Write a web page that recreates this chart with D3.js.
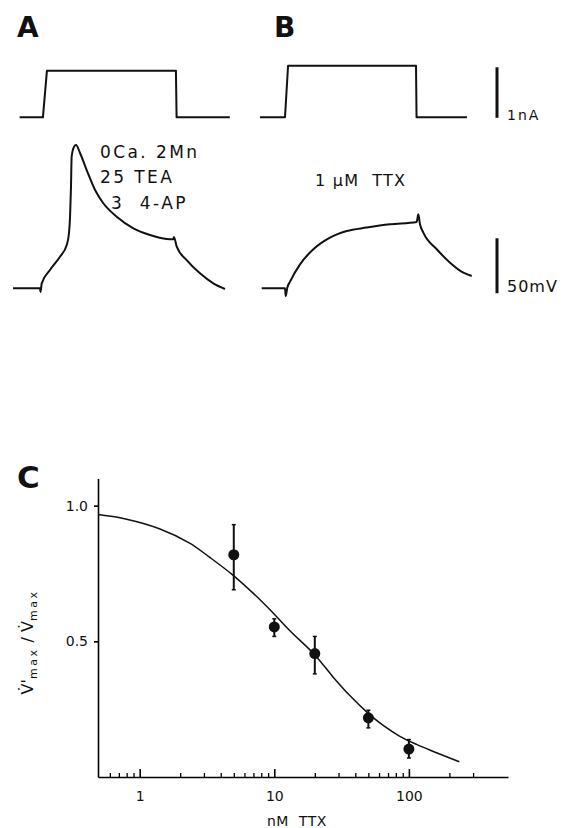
<!DOCTYPE html>
<html>
<head>
<meta charset="utf-8">
<script src="https://cdn.jsdelivr.net/npm/d3@7"></script>
<style>
  body { margin: 0; background: #fff; }
  svg { display: block; }
  text { font-family: "DejaVu Sans", sans-serif; fill: #111; }
</style>
</head>
<body>
<svg id="vis" width="562" height="828"></svg>
<script>
// ---- panel A / B traces (t in ms, I in nA, V in mV above rest) ----
var stepA_t = [5, 22.5, 25.5, 122.5, 123, 163];
var stepA_i = [0, 0, 0.93, 0.93, 0, 0];
var stepB_t = [0, 18.8, 21.1, 117.3, 117.7, 155.6];
var stepB_i = [0, 0, 1.03, 1.03, 0, 0];

var traceA_t = [0, 20.3, 20.7, 21.6, 27.8, 35.3, 40.4, 42.1, 42.9, 43.6, 44.1, 45.9, 47.4,
  50.4, 55.4, 61.7, 67.9, 78, 90.5, 103, 115.6, 120.5, 121, 123.1, 130.6, 140.6, 150.6, 159.4];
var traceA_v = [0, 0, -3.4, 4.5, 16.6, 28.7, 39.4, 50.3, 65.1, 92.4, 119.6, 128.7, 130.3,
  123, 107.5, 89.4, 77.3, 65.1, 54.5, 48.5, 44.8, 44.5, 46.6, 37.8, 25.7, 13.6, 4.5, -0.6];

var traceB_t = [1.3, 18.8, 19.3, 20.5, 22.6, 30.1, 40.1, 52.6, 65.2, 80.2, 97.7, 117.8,
  119, 120.3, 122.8, 132.9, 142.9, 152.9, 159.2];
var traceB_v = [0, 0, -7, 0.5, 6.1, 21.8, 35.5, 46.1, 52.1, 55.2, 58.2, 60.3,
  67.3, 58.2, 50.6, 35.5, 23.3, 14.2, 11.2];

// ---- panel C (nM TTX vs V'max/Vmax) ----
var ttxDose = [5, 10, 20, 50, 100];
var ttxMean = [0.819, 0.553, 0.455, 0.218, 0.103];
var ttxLow  = [0.690, 0.518, 0.380, 0.181, 0.070];
var ttxHigh = [0.930, 0.583, 0.518, 0.246, 0.138];

var fitDose = [0.49, 0.8, 1.4, 2.35, 3.3, 4.9, 7.4, 10, 13, 20, 27.4, 36.4, 48.5, 64.4, 85.7, 114, 152, 237];
var fitFrac = [0.967, 0.950, 0.915, 0.862, 0.810, 0.745, 0.665, 0.600, 0.540, 0.450, 0.368, 0.300, 0.240, 0.190, 0.150, 0.120, 0.094, 0.056];

var majorTicks = [1, 10, 100];
var minorTicks = [0.6, 0.7, 0.8, 0.9, 2, 3, 4, 5, 6, 7, 8, 9, 20, 30, 40, 50, 60, 70, 80, 90, 200, 300];
var yTicks = [0.5, 1.0];

var svg = d3.select("svg#vis");

// scales for the traces
var xA = d3.scaleLinear().domain([0, 160]).range([13, 13 + 160 * 1.33]);
var xB = d3.scaleLinear().domain([0, 160]).range([260, 260 + 160 * 1.33]);
var yI = d3.scaleLinear().domain([0, 1]).range([117.3, 67.3]);
var yV = d3.scaleLinear().domain([0, 50]).range([288.3, 233.3]);

function zip(a, b) { return a.map((d, i) => [d, b[i]]); }

function drawTrace(xs, ys, ts, vs, curve) {
  var line = d3.line()
    .x(d => xs(d[0]))
    .y(d => ys(d[1]))
    .curve(curve);
  svg.append("path")
    .attr("d", line(zip(ts, vs)))
    .attr("fill", "none")
    .attr("stroke", "#111")
    .attr("stroke-width", 2)
    .attr("stroke-linejoin", "round");
}

drawTrace(xA, yI, stepA_t, stepA_i, d3.curveLinear);
drawTrace(xB, yI, stepB_t, stepB_i, d3.curveLinear);
drawTrace(xA, yV, traceA_t, traceA_v, d3.curveMonotoneX);
drawTrace(xB, yV, traceB_t, traceB_v, d3.curveMonotoneX);

// widely spaced lettering like the original
function label(x, y, size, spacing, str) {
  return svg.append("text")
    .attr("x", x).attr("y", y)
    .style("font-size", size + "px")
    .style("letter-spacing", spacing + "px")
    .text(str);
}
var nb = "\u00a0";

// scale bars
svg.append("line")
  .attr("x1", 497).attr("x2", 497)
  .attr("y1", yI(-0.01)).attr("y2", yI(1.0))
  .attr("stroke", "#111").attr("stroke-width", 3);
label(507, 120, 14, 2, "1nA");

svg.append("line")
  .attr("x1", 497).attr("x2", 497)
  .attr("y1", yV(-4.5)).attr("y2", yV(45.5))
  .attr("stroke", "#111").attr("stroke-width", 3);
label(507, 292, 16, 1, "50mV");

// panel letters
svg.append("text").attr("x", 17).attr("y", 37)
  .style("font-size", "28px").style("font-weight", "bold").text("A");
svg.append("text").attr("x", 274).attr("y", 37)
  .style("font-size", "28px").style("font-weight", "bold").text("B");
svg.append("text").attr("x", 17).attr("y", 488)
  .style("font-size", "31px").style("font-weight", "bold").text("C");

// solution labels
label(100, 158, 17, 2.4, "0Ca." + nb + "2Mn");
label(100, 183, 17, 2.4, "25" + nb + "TEA");
label(111, 209, 17, 2.4, "3" + nb + nb + "4-AP");
label(315, 186, 16, 1.3, "1" + nb + "\u03bcM" + nb + nb + "TTX");

// ---- panel C ----
var x = d3.scaleLog().domain([0.49, 545]).range([98, 508]);
var y = d3.scaleLinear().domain([0, 1.1]).range([777, 478.5]);

var gC = svg.append("g");

gC.append("g")
  .attr("transform", "translate(98,0)")
  .call(d3.axisLeft(y).tickValues(yTicks).tickSizeInner(4).tickSizeOuter(0)
    .tickPadding(6).tickFormat(d3.format(".1f")))
  .call(g => g.select(".domain").attr("stroke-width", 1.6))
  .call(g => g.selectAll(".tick line").attr("stroke-width", 1.6))
  .call(g => g.selectAll("text").style("font-family", "DejaVu Sans").style("font-size", "14px").attr("fill", "#111"));

gC.append("g")
  .attr("transform", "translate(0,777)")
  .call(d3.axisBottom(x).tickValues(minorTicks).tickSizeInner(-4).tickSizeOuter(0).tickFormat(""))
  .call(g => g.select(".domain").attr("stroke-width", 1.6))
  .call(g => g.selectAll(".tick line").attr("stroke-width", 1.3));

gC.append("g")
  .attr("transform", "translate(0,777)")
  .call(d3.axisBottom(x).tickValues(majorTicks).tickSizeInner(-8).tickSizeOuter(0)
    .tickPadding(14).tickFormat(d3.format("d")))
  .call(g => g.select(".domain").remove())
  .call(g => g.selectAll(".tick line").attr("stroke-width", 1.6))
  .call(g => g.selectAll("text").style("font-family", "DejaVu Sans").style("font-size", "14px").attr("fill", "#111"));

label(267, 826, 14, 0.5, "nM" + nb + nb + "TTX");

// y label: V'max / Vmax (dotted V)
var ylab = svg.append("text")
  .attr("transform", "translate(33,642) rotate(-90)")
  .attr("text-anchor", "middle")
  .style("font-size", "16px");
ylab.append("tspan").text("V\u0307'");
ylab.append("tspan").attr("dy", 4).style("font-size", "11px").style("letter-spacing", "2.5px").text("max");
ylab.append("tspan").attr("dy", -4).text(" / ");
ylab.append("tspan").text("V\u0307");
ylab.append("tspan").attr("dy", 4).style("font-size", "11px").style("letter-spacing", "2.5px").text("max");

// fitted curve
var fitLine = d3.line()
  .x(d => x(d[0]))
  .y(d => y(d[1]))
  .curve(d3.curveCatmullRom.alpha(0.5));
gC.append("path")
  .attr("d", fitLine(zip(fitDose, fitFrac)))
  .attr("fill", "none")
  .attr("stroke", "#111")
  .attr("stroke-width", 1.5);

// error bars + points
var pts = ttxDose.map((d, i) => ({ dose: d, m: ttxMean[i], lo: ttxLow[i], hi: ttxHigh[i] }));

var eb = gC.selectAll("g.err").data(pts).enter().append("g").attr("class", "err");
eb.append("line")
  .attr("x1", d => x(d.dose)).attr("x2", d => x(d.dose))
  .attr("y1", d => y(d.lo)).attr("y2", d => y(d.hi))
  .attr("stroke", "#111").attr("stroke-width", 2);
eb.append("line")
  .attr("x1", d => x(d.dose) - 2).attr("x2", d => x(d.dose) + 2)
  .attr("y1", d => y(d.lo)).attr("y2", d => y(d.lo))
  .attr("stroke", "#111").attr("stroke-width", 1.5);
eb.append("line")
  .attr("x1", d => x(d.dose) - 2).attr("x2", d => x(d.dose) + 2)
  .attr("y1", d => y(d.hi)).attr("y2", d => y(d.hi))
  .attr("stroke", "#111").attr("stroke-width", 1.5);

gC.selectAll("circle.pt").data(pts).enter().append("circle")
  .attr("class", "pt")
  .attr("cx", d => x(d.dose))
  .attr("cy", d => y(d.m))
  .attr("r", 5.5)
  .attr("fill", "#111");
</script>
</body>
</html>
